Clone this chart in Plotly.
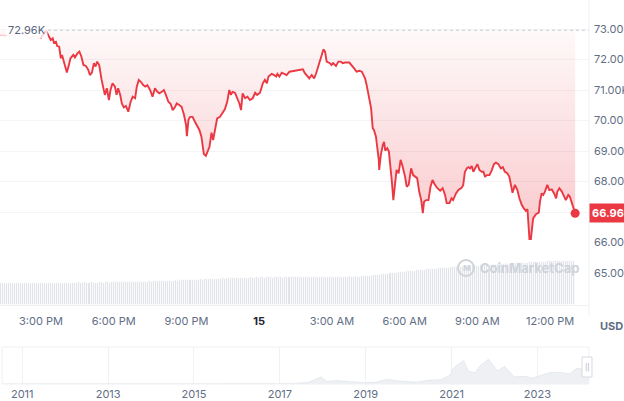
import pandas as pd
import plotly.graph_objects as go

# ---------------- data ----------------
DAY0 = pd.Timestamp("2024-03-14 13:00")

# minutes after DAY0 for each price sample
price_minutes = [
    18, 43, 68, 93, 105, 119, 132, 138, 144, 149, 152, 157, 160, 165, 169, 172, 175, 180, 184, 188,
    193, 200, 204, 210, 215, 220, 225, 231, 237, 241, 246, 251, 255, 259, 264, 270, 274, 278, 283, 288,
    292, 297, 303, 307, 311, 316, 320, 325, 330, 336, 342, 347, 353, 357, 362, 367, 373, 378, 383, 390,
    396, 402, 408, 413, 419, 424, 429, 435, 441, 446, 452, 456, 462, 468, 474, 479, 481, 485, 489, 495,
    501, 507, 512, 517, 520, 523, 528, 533, 537, 540, 542, 546, 551, 556, 563, 570, 575, 581, 586, 590,
    594, 600, 606, 611, 615, 619, 625, 631, 637, 644, 650, 655, 662, 669, 674, 679, 683, 691, 697, 702,
    705, 710, 716, 721, 728, 735, 746, 761, 768, 773, 779, 784, 790, 796, 801, 806, 812, 819, 823, 827,
    835, 839, 843, 850, 856, 862, 867, 872, 883, 889, 895, 901, 908, 914, 918, 922, 926, 930, 934, 937,
    941, 944, 949, 952, 956, 957, 961, 966, 969, 972, 977, 981, 984, 988, 992, 996, 1000, 1005, 1010, 1015,
    1021, 1025, 1030, 1036, 1041, 1046, 1051, 1056, 1061, 1065, 1068, 1073, 1079, 1084, 1089, 1095, 1101, 1108, 1114, 1120,
    1124, 1131, 1136, 1140, 1147, 1153, 1161, 1165, 1169, 1174, 1178, 1182, 1186, 1190, 1194, 1200, 1205, 1211, 1215, 1219,
    1223, 1230, 1236, 1241, 1246, 1252, 1258, 1263, 1268, 1274, 1279, 1282, 1287, 1293, 1299, 1304, 1310, 1315, 1320, 1324,
    1326, 1329, 1332, 1335, 1338, 1345, 1352, 1355, 1359, 1363, 1367, 1373, 1378, 1384, 1390, 1395, 1398, 1403, 1409, 1414,
    1419, 1425, 1429, 1434, 1437, 1442,
]

# BTC price in USD
price_usd = [
    72800, 72770, 72840, 72710, 72770, 72690, 72960, 72800, 72640, 72690, 72550, 72580, 72440, 72420, 72040, 72150, 72010, 71820, 71570, 71770,
    72040, 72150, 72070, 72200, 72260, 72090, 71820, 71790, 71660, 71490, 71570, 71880, 71770, 71930, 71820, 71330, 71110, 70840, 71060, 70670,
    71000, 71220, 71110, 70840, 71060, 70840, 70560, 70430, 70480, 70290, 70620, 70780, 70730, 71110, 71330, 71270, 71160, 71110, 71160, 71000,
    70780, 71060, 70940, 70890, 70940, 71000, 70840, 70620, 70540, 70340, 70450, 70560, 70510, 70450, 70180, 69850, 69490, 70020, 70120, 70120,
    69960, 69800, 69690, 69470, 69140, 68900, 68840, 68980, 69140, 69420, 69600, 69360, 69740, 70070, 70120, 70290, 70370, 70620, 71000, 70840,
    70940, 70910, 70730, 70560, 70340, 70890, 70730, 70780, 70670, 70730, 70910, 70840, 70910, 71220, 71330, 71220, 71440, 71530, 71490, 71440,
    71530, 71440, 71570, 71530, 71490, 71600, 71620, 71660, 71680, 71550, 71440, 71380, 71490, 71380, 71550, 71770, 72090, 72330, 72260, 71930,
    71880, 71820, 71880, 71790, 71930, 71930, 71880, 71900, 71900, 71820, 71710, 71600, 71630, 71600, 71490, 71380, 71160, 70840, 70620, 70400,
    69740, 69690, 69470, 69200, 68700, 68380, 68870, 69200, 69300, 69010, 69090, 68980, 68650, 68050, 67390, 67940, 68380, 68270, 68710, 68490,
    68160, 67830, 67890, 68430, 68210, 68160, 68110, 67670, 67390, 66960, 67340, 67390, 67390, 67830, 68050, 67890, 67780, 67700, 67780, 67560,
    67290, 67290, 67450, 67390, 67610, 67720, 67790, 67890, 68310, 68440, 68470, 68430, 68510, 68320, 68430, 68570, 68380, 68320, 68320, 68150,
    68210, 68210, 68380, 68570, 68620, 68570, 68430, 68470, 68320, 68270, 68160, 67940, 67630, 67890, 67720, 67450, 67230, 67120, 67040, 67090,
    66630, 66100, 66060, 66410, 66790, 66930, 66980, 67340, 67610, 67560, 67660, 67890, 67720, 67740, 67610, 67450, 67670, 67780, 67670, 67530,
    67390, 67560, 67500, 67290, 67130, 66960,
]
assert len(price_minutes) == len(price_usd), (len(price_minutes), len(price_usd))

# index where the faded lead-in part of the line ends
faded_until = 6

# 5-minute volume bars, billions USD, one row per hour
volume_first_minute = 20
volume_step_minutes = 5
volume_busd = [
    44, 44, 45, 44, 44, 45, 44, 44, 44, 45, 44, 44,
    44, 45, 44, 44, 45, 44, 44, 45, 44, 44, 45, 44,
    44, 45, 45, 44, 45, 45, 44, 45, 45, 44, 45, 45,
    45, 45, 45, 46, 45, 45, 46, 45, 45, 46, 45, 45,
    45, 46, 46, 45, 46, 46, 45, 46, 46, 46, 46, 46,
    46, 46, 47, 46, 47, 47, 46, 47, 47, 47, 47, 47,
    47, 47, 48, 47, 48, 48, 48, 48, 48, 49, 48, 49,
    49, 49, 49, 50, 49, 50, 50, 50, 50, 51, 50, 51,
    51, 51, 51, 52, 51, 52, 52, 52, 53, 52, 53, 53,
    53, 53, 54, 53, 54, 54, 54, 55, 54, 55, 55, 55,
    55, 55, 55, 55, 56, 55, 55, 56, 55, 56, 56, 55,
    56, 56, 56, 55, 56, 56, 56, 56, 55, 56, 56, 56,
    56, 56, 57, 56, 56, 57, 56, 56, 57, 56, 56, 57,
    56, 57, 57, 56, 57, 57, 56, 57, 57, 56, 57, 57,
    57, 57, 57, 57, 57, 58, 57, 57, 58, 57, 57, 58,
    58, 58, 58, 59, 59, 60, 60, 61, 61, 62, 62, 63,
    63, 64, 64, 65, 65, 66, 66, 67, 67, 68, 68, 69,
    69, 69, 70, 70, 71, 71, 71, 72, 72, 72, 73, 73,
    73, 74, 74, 74, 75, 75, 75, 76, 76, 76, 76, 77,
    77, 77, 78, 78, 78, 78, 79, 79, 79, 79, 80, 80,
    80, 80, 81, 81, 81, 81, 82, 82, 82, 82, 83, 83,
    83, 83, 84, 84, 84, 84, 85, 85, 85, 85, 86, 86,
    86, 86, 86, 87, 87, 87, 87, 88, 88, 88, 88, 88,
    88, 88, 89, 89, 89, 89, 89, 89, 89,
]

price_ticks = [65000, 66000, 67000, 68000, 69000, 70000, 71000, 72000, 73000]
time_ticks = ["2024-03-14 15:00", "2024-03-14 18:00", "2024-03-14 21:00", "2024-03-15 00:00",
              "2024-03-15 03:00", "2024-03-15 06:00", "2024-03-15 09:00", "2024-03-15 12:00"]
time_tick_text = ["3:00 PM", "6:00 PM", "9:00 PM", "<span style='color:#222531'><b>15</b></span>",
                  "3:00 AM", "6:00 AM", "9:00 AM", "12:00 PM"]

# long-history navigator (BTC, thousands USD)
nav_dates = ["2010-07-13", "2011-06-01", "2012-01-01", "2013-01-01", "2013-12-01", "2014-06-01", "2015-01-01",
             "2016-01-01", "2016-07-01", "2017-01-01", "2017-06-01", "2017-09-01", "2017-12-17", "2018-02-06",
             "2018-05-01", "2018-08-01", "2018-12-15", "2019-04-01", "2019-06-26", "2019-10-01", "2020-03-13",
             "2020-06-01", "2020-10-01", "2020-12-20", "2021-01-08", "2021-02-20", "2021-04-14", "2021-05-23",
             "2021-07-20", "2021-09-06", "2021-11-10", "2022-01-24", "2022-03-29", "2022-06-18", "2022-09-10",
             "2022-11-21", "2023-01-31", "2023-04-14", "2023-07-13", "2023-10-01", "2023-12-05", "2024-01-23",
             "2024-02-20", "2024-03-14"]
nav_kusd = [0.05, 0.02, 0.01, 0.01, 0.9, 0.6, 0.3, 0.4, 0.65, 1.0, 2.5, 4.3, 19.0, 7.0,
            9.0, 6.5, 3.3, 5.0, 12.5, 8.0, 5.0, 9.5, 11.5, 24.0, 40.0, 52.0, 63.0, 35.0,
            30.0, 51.0, 67.0, 36.0, 47.0, 19.0, 21.0, 16.0, 23.5, 30.5, 31.0, 27.0, 43.0, 39.0,
            52.0, 73.0]

# ---------------- figure ----------------
W, H = 624, 401
RED = "#ea3943"
LABEL = "#616e85"
FONT = "Inter"

def px_x(p):
    return p / W

def px_y(p):
    return 1 - p / H

t_price = [DAY0 + pd.Timedelta(minutes=m) for m in price_minutes]
t_vol = [DAY0 + pd.Timedelta(minutes=volume_first_minute + volume_step_minutes * i) for i in range(len(volume_busd))]
hi = max(price_usd)
last = price_usd[-1]

fig = go.Figure()

# volume bars
fig.add_trace(go.Bar(x=t_vol, y=volume_busd, xaxis="x", yaxis="y3",
                     marker=dict(color="#dfe3e9", line=dict(width=0.8, color="white")),
                     width=300000, hoverinfo="skip", showlegend=False))

# baseline at the period high (fill reference)
fig.add_trace(go.Scatter(x=[t_price[0], t_price[-1]], y=[hi, hi], mode="lines",
                         line=dict(width=0, color="rgba(0,0,0,0)"), xaxis="x", yaxis="y",
                         hoverinfo="skip", showlegend=False))

# price area with gradient fill up to the high (line drawn separately)
fig.add_trace(go.Scatter(x=t_price, y=price_usd, mode="lines", xaxis="x", yaxis="y",
                         line=dict(color="rgba(0,0,0,0)", width=0),
                         fill="tonexty",
                         fillgradient=dict(type="vertical", start=min(price_usd), stop=hi,
                                           colorscale=[[0, "rgba(234,57,67,0.28)"],
                                                       [1, "rgba(234,57,67,0.03)"]]),
                         hoverinfo="skip", showlegend=False))

# faded lead-in part of the line
fig.add_trace(go.Scatter(x=t_price[:faded_until + 1], y=price_usd[:faded_until + 1], mode="lines",
                         xaxis="x", yaxis="y", line=dict(color="rgba(234,57,67,0.22)", width=1.5),
                         hoverinfo="skip", showlegend=False))

# main price line
fig.add_trace(go.Scatter(x=t_price[faded_until - 1:], y=price_usd[faded_until - 1:], mode="lines",
                         xaxis="x", yaxis="y", line=dict(color=RED, width=1.9),
                         hoverinfo="skip", showlegend=False))

# last point marker
fig.add_trace(go.Scatter(x=[t_price[-1]], y=[last], mode="markers", xaxis="x", yaxis="y",
                         marker=dict(color=RED, size=9), hoverinfo="skip", showlegend=False))

# navigator
fig.add_trace(go.Scatter(x=nav_dates, y=nav_kusd, mode="lines", xaxis="x2", yaxis="y2",
                         line=dict(color="#e1e5ea", width=0.8), fill="tozeroy",
                         fillcolor="#eef0f4", hoverinfo="skip", showlegend=False))

main_right = 589
x_lo = DAY0 + pd.Timedelta(minutes=18.5)
x_hi = DAY0 + pd.Timedelta(minutes=18.5 + main_right * 2.475)

price_tick_text = ["" if abs(v - last) < 500 else f"{v/1000:.2f}K" for v in price_ticks]

fig.update_layout(
    width=W, height=H, autosize=False,
    margin=dict(l=0, r=0, t=0, b=0, autoexpand=False),
    paper_bgcolor="white", plot_bgcolor="white",
    hovermode=False, showlegend=False,
    font=dict(family=FONT, size=11, color=LABEL),
    bargap=0,
    xaxis=dict(domain=[0, px_x(main_right)], anchor="y3", type="date", automargin=False,
               range=[x_lo, x_hi], showgrid=False, zeroline=False,
               showline=True, linecolor="#eff1f4", linewidth=1,
               tickvals=time_ticks, ticktext=time_tick_text, ticks="",
               ticklabelstandoff=6, tickfont=dict(family=FONT, size=11, color=LABEL)),
    yaxis=dict(domain=[px_y(305), 1], anchor="x", side="right", automargin=False,
               range=[63951, 73951], tickvals=price_ticks, ticktext=price_tick_text,
               showgrid=True, gridcolor="#f3f4f6", gridwidth=1, zeroline=False,
               ticks="", ticklabelstandoff=4, showline=False,
               tickfont=dict(family=FONT, size=11, color=LABEL)),
    yaxis3=dict(domain=[px_y(305), px_y(240)], anchor="x", range=[0, 130], visible=False,
                automargin=False),
    xaxis2=dict(domain=[px_x(2), px_x(main_right)], anchor="y2", type="date", automargin=False,
                range=["2010-07-13", "2024-03-15"], tick0="2011-01-01", dtick="M24",
                tickformat="%Y", showgrid=True, gridcolor="#eff1f4", zeroline=False,
                ticks="", ticklabelstandoff=2, showline=False,
                tickfont=dict(family=FONT, size=11, color=LABEL)),
    yaxis2=dict(domain=[px_y(384), px_y(347)], anchor="x2", range=[0, 100], visible=False,
                automargin=False),
)

shapes = [
    # dotted line at the period high
    dict(type="line", xref="paper", yref="y", x0=px_x(42), x1=px_x(main_right), y0=hi, y1=hi,
         line=dict(color="#c5cad3", width=1, dash="dot")),
    # separator between plot and price labels
    dict(type="line", xref="paper", yref="paper", x0=px_x(main_right), x1=px_x(main_right),
         y0=px_y(315), y1=1, line=dict(color="#eef0f3", width=1)),
    # navigator frame
    dict(type="rect", xref="paper", yref="paper", x0=px_x(2), x1=px_x(main_right),
         y0=px_y(384), y1=px_y(347), line=dict(color="#eef0f3", width=1)),
    # navigator handle
    dict(type="rect", xref="paper", yref="paper", x0=px_x(582), x1=px_x(592),
         y0=px_y(377), y1=px_y(357), fillcolor="white", line=dict(color="#d5d9e0", width=1)),
    # watermark logo ring
    dict(type="circle", xref="paper", yref="paper", x0=px_x(458), x1=px_x(474),
         y0=px_y(276), y1=px_y(260), line=dict(color="#cfd3da", width=2)),
]
fig.update_layout(shapes=shapes)

annotations = [
    dict(xref="paper", yref="y", x=px_x(6), y=hi, xanchor="left", yanchor="middle",
         text=f"{hi/1000:.2f}K", showarrow=False, bgcolor="rgba(255,255,255,0.8)",
         borderpad=1, font=dict(family=FONT, size=11, color="#58667e")),
    dict(xref="paper", yref="y", x=px_x(main_right), y=last, xanchor="left", yanchor="middle",
         text=f"<b>{last/1000:.2f}K</b>", showarrow=False, bgcolor=RED, borderpad=2,
         font=dict(family=FONT, size=11, color="white")),
    dict(xref="paper", yref="paper", x=px_x(611), y=px_y(326), xanchor="center", yanchor="middle",
         text="<b>USD</b>", showarrow=False, font=dict(family=FONT, size=11, color=LABEL)),
    dict(xref="paper", yref="paper", x=px_x(478), y=px_y(268), xanchor="left", yanchor="middle",
         text="<b>CoinMarketCap</b>", showarrow=False,
         font=dict(family=FONT, size=13, color="#cfd3da")),
    dict(xref="paper", yref="paper", x=px_x(466), y=px_y(268), xanchor="center", yanchor="middle",
         text="<b>M</b>", showarrow=False, font=dict(family=FONT, size=8, color="#cfd3da")),
    dict(xref="paper", yref="paper", x=px_x(587), y=px_y(367), xanchor="center", yanchor="middle",
         text="||", showarrow=False, font=dict(family=FONT, size=7, color="#a0a7b4")),
]
fig.update_layout(annotations=annotations)

fig.write_html("out.html", config={"displayModeBar": False},
               post_script="document.body.style.margin='0px';document.body.style.overflow='hidden';")
